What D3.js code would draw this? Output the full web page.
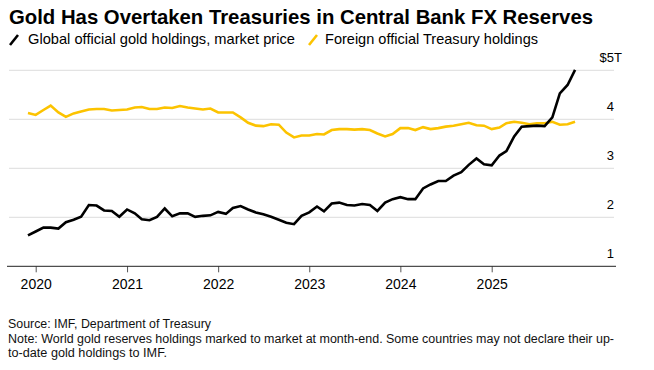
<!DOCTYPE html>
<html>
<head>
<meta charset="utf-8">
<script src="https://cdn.jsdelivr.net/npm/d3@7"></script>
<style>
  html, body { margin: 0; padding: 0; background: #fff; }
  svg { display: block; font-family: "Liberation Sans", Arial, Helvetica, sans-serif; }
</style>
</head>
<body>
<div id="chart"></div>
<script>
// monthly readings, month-end (plotted at start of next month)
const START = new Date(2019, 11, 1);
const END = new Date(2025, 11, 2);
const months = d3.timeMonth.range(START, END);

// $ trillions
const gold = [
  1.63, 1.71, 1.79, 1.79, 1.77, 1.90, 1.95, 2.01, 2.25, 2.24, 2.14, 2.13, 2.01, 2.16, 2.08,
  1.96, 1.94, 2.01, 2.18, 2.02, 2.08, 2.08, 2.01, 2.03, 2.04, 2.11, 2.07, 2.19, 2.23,
  2.16, 2.10, 2.06, 2.01, 1.95, 1.89, 1.86, 2.03, 2.10, 2.22, 2.12, 2.28, 2.30, 2.25, 2.24,
  2.27, 2.25, 2.13, 2.30, 2.37, 2.41, 2.37, 2.37, 2.59, 2.67, 2.74, 2.74, 2.85, 2.92,
  3.07, 3.20, 3.08, 3.06, 3.26, 3.35, 3.65, 3.85, 3.86, 3.87, 3.86, 4.04, 4.53, 4.70, 5.01,
];

const treasury = [
  4.13, 4.09, 4.19, 4.28, 4.14, 4.05, 4.12, 4.16, 4.20, 4.21, 4.21, 4.18, 4.19, 4.20, 4.24,
  4.25, 4.21, 4.21, 4.24, 4.23, 4.27, 4.24, 4.22, 4.20, 4.22, 4.14, 4.14, 4.14, 4.04,
  3.93, 3.87, 3.86, 3.90, 3.89, 3.73, 3.63, 3.67, 3.67, 3.70, 3.69, 3.78, 3.80, 3.80, 3.79,
  3.80, 3.78, 3.71, 3.65, 3.70, 3.82, 3.82, 3.78, 3.84, 3.80, 3.82, 3.85, 3.87, 3.90,
  3.93, 3.88, 3.87, 3.80, 3.83, 3.92, 3.95, 3.93, 3.90, 3.92, 3.92, 3.95, 3.89, 3.90, 3.95,
];

const yearTicks = [2020, 2021, 2022, 2023, 2024, 2025];
const yTicks = [1, 2, 3, 4, 5];

const seriesInfo = [
  { key: "gold", label: "Global official gold holdings, market price", values: gold, color: "#000000" },
  { key: "treasury", label: "Foreign official Treasury holdings", values: treasury, color: "#fcc300" },
];

const title = "Gold Has Overtaken Treasuries in Central Bank FX Reserves";
const footnotes = [
  "Source: IMF, Department of Treasury",
  "Note: World gold reserves holdings marked to market at month-end. Some countries may not declare their up-",
  "to-date gold holdings to IMF.",
];

const width = 654;
const height = 370;

const svg = d3
  .select("#chart")
  .append("svg")
  .attr("width", width)
  .attr("height", height);

// squeeze text into the narrow Bloomberg face width
function fit(sel, w) {
  sel.attr("textLength", w).attr("lengthAdjust", "spacingAndGlyphs");
}

// TITLE
svg
  .append("text")
  .attr("x", 9)
  .attr("y", 24)
  .attr("font-size", "21px")
  .attr("font-weight", "700")
  .attr("fill", "#000")
  .text(title)
  .call(fit, 584);

// LEGEND
const legendPos = [
  { x: 9, textX: 28, w: 267 },
  { x: 308, textX: 325, w: 213 },
];

const legend = svg
  .append("g")
  .selectAll("g")
  .data(seriesInfo)
  .enter()
  .append("g")
  .attr("transform", (d, i) => `translate(${legendPos[i].x}, 0)`);

legend
  .append("line")
  .attr("x1", 1)
  .attr("y1", 45)
  .attr("x2", 9)
  .attr("y2", 35)
  .attr("stroke", (d) => d.color)
  .attr("stroke-width", 2.6)
  .attr("stroke-linecap", "butt");

legend
  .append("text")
  .attr("x", (d, i) => legendPos[i].textX - legendPos[i].x)
  .attr("y", 44)
  .attr("font-size", "14.5px")
  .attr("fill", "#000")
  .text((d) => d.label)
  .each(function (d, i) {
    d3.select(this).call(fit, legendPos[i].w);
  });

// SCALES
const x = d3
  .scaleTime()
  .domain([new Date(2020, 0, 1), new Date(2025, 0, 1)])
  .range([35.7, 491.7]);

const y = d3.scaleLinear().domain([1, 5]).range([266.3, 70.3]);

const plotLeft = 9;
const plotRight = 614;

// GRIDLINES
svg
  .append("g")
  .selectAll("line")
  .data(yTicks.filter((v) => v > 1))
  .enter()
  .append("line")
  .attr("x1", plotLeft)
  .attr("x2", plotRight)
  .attr("y1", (d) => y(d))
  .attr("y2", (d) => y(d))
  .attr("stroke", "#dcdcdc")
  .attr("stroke-width", 1);

// Y LABELS (above gridlines, right aligned)
const yLabels = svg.append("g");
yLabels
  .selectAll("text")
  .data(yTicks)
  .enter()
  .append("text")
  .attr("x", plotRight)
  .attr("y", (d) => y(d) - 8)
  .attr("text-anchor", "end")
  .attr("font-size", "13px")
  .attr("fill", "#000")
  .text((d) => (d === 5 ? "$5" : d));

yLabels
  .append("text")
  .attr("x", plotRight)
  .attr("y", y(5) - 8)
  .attr("font-size", "13px")
  .attr("fill", "#000")
  .text("T");

// X AXIS
const xAxis = svg
  .append("g")
  .attr("transform", `translate(0, ${y(1)})`)
  .call(
    d3
      .axisBottom(x)
      .tickValues(yearTicks.map((yr) => new Date(yr, 0, 1)))
      .tickFormat(d3.timeFormat("%Y"))
      .tickSize(6)
      .tickPadding(7)
  );

xAxis.select(".domain").remove();
xAxis.selectAll(".tick line").attr("stroke", "#555");
xAxis
  .selectAll(".tick text")
  .attr("font-size", "14px")
  .attr("font-family", "inherit")
  .attr("fill", "#000");

svg
  .append("line")
  .attr("x1", 7)
  .attr("x2", 616)
  .attr("y1", y(1))
  .attr("y2", y(1))
  .attr("stroke", "#222")
  .attr("stroke-width", 1);

// LINES
const line = d3
  .line()
  .x((d) => x(d.date))
  .y((d) => y(d.value));

svg
  .append("g")
  .selectAll("path")
  .data(seriesInfo.slice().reverse())
  .enter()
  .append("path")
  .attr("d", (s) => line(s.values.map((v, i) => ({ date: months[i], value: v }))))
  .attr("fill", "none")
  .attr("stroke", (s) => s.color)
  .attr("stroke-width", 2.6)
  .attr("stroke-linejoin", "miter");

// FOOTNOTES
const footW = [203, 606, 159];
svg
  .append("g")
  .selectAll("text")
  .data(footnotes)
  .enter()
  .append("text")
  .attr("x", 8)
  .attr("y", (d, i) => 328 + i * 14.5)
  .attr("font-size", "12px")
  .attr("fill", "#111")
  .text((d) => d)
  .each(function (d, i) {
    d3.select(this).call(fit, footW[i]);
  });
</script>
</body>
</html>
